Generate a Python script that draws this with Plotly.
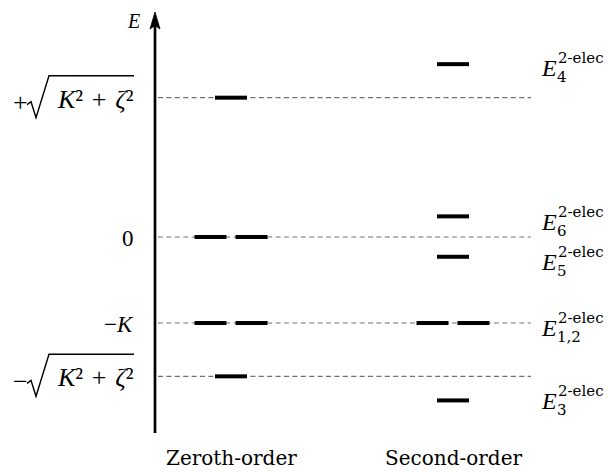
import plotly.graph_objects as go

# Energy levels (units of K)
sqrt_term = 1.62  # sqrt(K^2 + zeta^2)
zeroth_E = [sqrt_term, 0.0, -1.0, -sqrt_term]
zeroth_deg = [1, 2, 2, 1]
ref_sign = ["+", None, None, "−"]
radicand = "<i>K</i>² \u200a+\u200a <i>ζ</i>²"
ref_text = [radicand, "0", "−<i>K</i>", radicand]

second_E = [2.01, 0.24, -0.23, -1.0, -1.90]
second_deg = [1, 1, 1, 2, 1]
second_sub = ["4", "6", "5", "1,2", "3"]
column_names = ["Zeroth-order", "Second-order"]

# layout geometry (x in pixels, y converted through the energy scale)
W, H = 608, 472
col_x = [231, 453]
half_w = 16
pair_off = 20.5
axis_x = 155
line_x0, line_x1 = 158, 531
px_per_E = 86.0
y_zero_px = 237.0
y_lo = (y_zero_px - H) / px_per_E
y_hi = y_zero_px / px_per_E


def e_of(py):
    """energy value at a given pixel row"""
    return (y_zero_px - py) / px_per_E


def px_of(e):
    return y_zero_px - px_per_E * e


def bars(cx, energies, degs):
    xs, ys = [], []
    for e, d in zip(energies, degs):
        centers = [cx] if d == 1 else [cx - pair_off, cx + pair_off]
        for c in centers:
            xs += [c - half_w, c + half_w, None]
            ys += [e, e, None]
    return xs, ys


fig = go.Figure()

# dashed reference lines at the zeroth-order energies
dx, dy = [], []
for e in zeroth_E:
    dx += [line_x0, line_x1, None]
    dy += [e, e, None]
fig.add_trace(go.Scatter(x=dx, y=dy, mode="lines",
                         line=dict(color="#707070", width=1.2, dash="5px,3.4px"),
                         hoverinfo="skip", showlegend=False))

# level bars
for cx, E, D in [(col_x[0], zeroth_E, zeroth_deg), (col_x[1], second_E, second_deg)]:
    bx, by = bars(cx, E, D)
    fig.add_trace(go.Scatter(x=bx, y=by, mode="lines",
                             line=dict(color="black", width=4),
                             hoverinfo="skip", showlegend=False))

shapes = []
# energy axis with arrow head
shapes.append(dict(type="line", xref="x", yref="y", x0=axis_x, x1=axis_x,
                   y0=e_of(433), y1=e_of(24), line=dict(color="black", width=2.7)))
shapes.append(dict(type="path", xref="x", yref="y",
                   path=f"M {axis_x},{e_of(12)} L {axis_x-5},{e_of(29)} L {axis_x},{e_of(25.5)} "
                        f"L {axis_x+5},{e_of(29)} Z",
                   fillcolor="black", line=dict(color="black", width=0.8)))

fig.add_annotation(x=133.5, y=e_of(21), xref="x", yref="y",
                   text="<i>E</i>", showarrow=False, xanchor="center", yanchor="middle",
                   font=dict(family="Liberation Serif", size=20, color="black"))

# left tick labels
for e, sign, lab in zip(zeroth_E, ref_sign, ref_text):
    py = px_of(e)
    if sign is None:
        fig.add_annotation(x=136, y=e, xref="x", yref="y", text=lab, showarrow=False,
                           xanchor="right", yanchor="middle", yshift=-1,
                           font=dict(family="Liberation Serif", size=23, color="black"))
        continue
    fig.add_annotation(x=20, y=e, xref="x", yref="y", text=sign, showarrow=False,
                       xanchor="center", yanchor="middle", yshift=-5,
                       font=dict(family="Liberation Serif", size=26, color="black"))
    fig.add_annotation(x=136, y=e, xref="x", yref="y", text=lab, showarrow=False,
                       xanchor="right", yanchor="middle", yshift=-1.5,
                       font=dict(family="Liberation Serif", size=26, color="black"))
    # radical sign drawn around the radicand
    shapes.append(dict(type="path", xref="x", yref="y",
                       path=f"M 27,{e_of(py+7)} L 31,{e_of(py+4)} L 36,{e_of(py+20)} "
                            f"L 49,{e_of(py-22)} L 134,{e_of(py-22)}",
                       line=dict(color="black", width=1.4)))

# right level labels
label_shift = [3.5, 5.5, 5.5, 4.5, 1]
for e, sub, sh in zip(second_E, second_sub, label_shift):
    fig.add_annotation(x=539, y=e, xref="x", yref="y", text="<i>E</i>", showarrow=False,
                       xanchor="left", yanchor="middle", yshift=-sh,
                       font=dict(family="Liberation Serif", size=24, color="black"))
    fig.add_annotation(x=556, y=e, xref="x", yref="y", text="2-elec", showarrow=False,
                       xanchor="left", yanchor="middle", yshift=-sh + 10,
                       font=dict(family="DejaVu Serif", size=15, color="black"))
    fig.add_annotation(x=555, y=e, xref="x", yref="y", text=sub, showarrow=False,
                       xanchor="left", yanchor="middle", yshift=-sh - 9,
                       font=dict(family="DejaVu Serif", size=15, color="black"))

# column titles
for cx, name in zip(col_x, column_names):
    fig.add_annotation(x=cx, y=e_of(458), xref="x", yref="y",
                       text=name, showarrow=False, xanchor="center", yanchor="middle",
                       font=dict(family="DejaVu Serif", size=20, color="black"))

fig.update_layout(width=W, height=H, margin=dict(l=0, r=0, t=0, b=0),
                  paper_bgcolor="white", plot_bgcolor="white", shapes=shapes,
                  xaxis=dict(range=[0, W], visible=False, fixedrange=True),
                  yaxis=dict(range=[y_lo, y_hi], visible=False, fixedrange=True))

fig.write_html("out.html")
